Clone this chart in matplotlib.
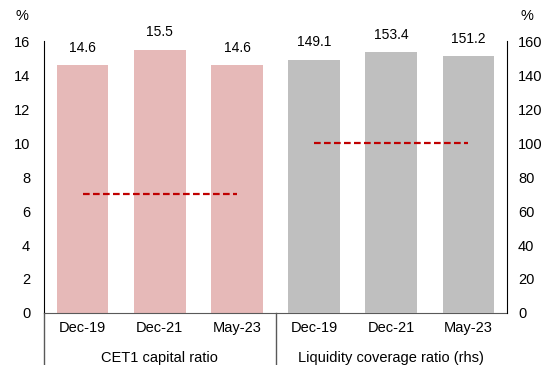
import numpy as np
import matplotlib.pyplot as plt
import matplotlib.transforms as mtransforms

plt.rcParams['font.family'] = ['Liberation Sans', 'DejaVu Sans']

periods = ['Dec-19', 'Dec-21', 'May-23']
cet1 = [14.6, 15.5, 14.6]
lcr = [149.1, 153.4, 151.2]
cet1_req = 7
lcr_req = 100
groups = ['CET1 capital ratio', 'Liquidity coverage ratio (rhs)']

pink = '#E6B9B8'
grey = '#BFBFBF'
red = '#C00000'

fig = plt.figure(figsize=(5.44, 3.65), dpi=100)
ax = fig.add_axes([0.081, 0.1425, 0.851, 0.745])
ax2 = ax.twinx()

x1 = np.arange(3)
x2 = np.arange(3, 6)
w = 0.67

ax.bar(x1, cet1, width=w, color=pink, zorder=2)
ax2.bar(x2, lcr, width=w, color=grey, zorder=2)
ax.plot([x1[0], x1[-1]], [cet1_req] * 2, color=red, ls='--', lw=1.6, dashes=(3, 1.5), zorder=3)
ax2.plot([x2[0], x2[-1]], [lcr_req] * 2, color=red, ls='--', lw=1.6, dashes=(3, 1.5), zorder=3)

for xi, v in zip(x1, cet1):
    ax.text(xi, v + 0.6, f'{v:.1f}', ha='center', va='bottom', fontsize=10)
for xi, v in zip(x2, lcr):
    ax2.text(xi, v + 6, f'{v:.1f}', ha='center', va='bottom', fontsize=10)

ax.set_xlim(-0.5, 5.5)
ax.set_ylim(0, 16)
ax2.set_ylim(0, 160)
ax.set_yticks(range(0, 17, 2))
ax2.set_yticks(range(0, 161, 20))
ax.set_xticks(range(6))
ax.set_xticklabels(periods * 2)

for a in (ax, ax2):
    a.tick_params(length=0, labelsize=10.5)
    for s in a.spines.values():
        s.set_visible(False)
ax.tick_params(axis='y', pad=10)
ax2.tick_params(axis='y', pad=8)
ax.tick_params(axis='x', pad=6)
ax.spines['left'].set_visible(True)
ax.spines['left'].set_color('black')
ax2.spines['right'].set_visible(True)
ax2.spines['right'].set_color('black')
ax.spines['bottom'].set_visible(True)
ax.spines['bottom'].set_color('#595959')

# group labels and separators below the axis
trans = mtransforms.blended_transform_factory(ax.transData, ax.transAxes)
for xs in (-0.5, 2.5):
    ax.plot([xs, xs], [0, -0.2], color='#595959', lw=1, transform=trans, clip_on=False)
ax.text(1, -0.165, groups[0], ha='center', va='center', fontsize=10.5, transform=trans)
ax.text(4, -0.165, groups[1], ha='center', va='center', fontsize=10.5, transform=trans)

fig.text(22 / 544, 1 - 16 / 365, '%', ha='center', va='center', fontsize=10.5)
fig.text(527 / 544, 1 - 16 / 365, '%', ha='center', va='center', fontsize=10.5)

plt.savefig('out.png', dpi=100)
